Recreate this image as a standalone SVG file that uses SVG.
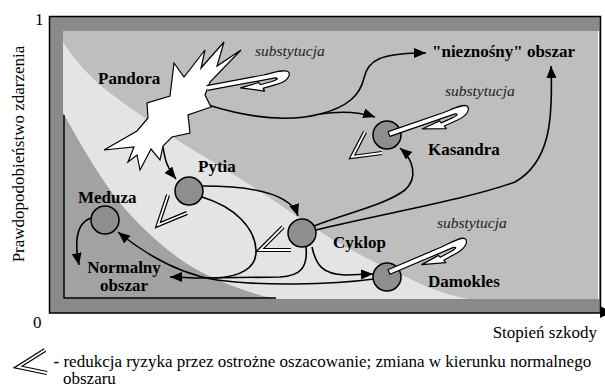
<svg xmlns="http://www.w3.org/2000/svg" xmlns:xlink="http://www.w3.org/1999/xlink" width="605" height="387" viewBox="0 0 605 387">
<style>
.lbl{font-family:Liberation Serif,Times New Roman,serif;font-weight:bold;font-size:17px;fill:#000}
.sub{font-family:Liberation Serif,Times New Roman,serif;font-style:italic;font-size:15.5px;fill:#222}
.ax{font-family:Liberation Serif,Times New Roman,serif;font-size:17px;fill:#000}
.con{fill:none;stroke:#000;stroke-width:1.6}
.arr{marker-end:url(#ah)}
.node{fill:#8e8e8e;stroke:#000;stroke-width:1.5}
.chev-o{fill:none;stroke:#000;stroke-width:4.2;stroke-miterlimit:10}
.chev-i{fill:none;stroke:#fff;stroke-width:1.8;stroke-miterlimit:10}
.subarr{fill:#fff;stroke:#000;stroke-width:1.2;stroke-linejoin:round}
</style>
<defs>
<marker id="ah" markerUnits="userSpaceOnUse" markerWidth="14" markerHeight="12" refX="12" refY="5" orient="auto">
<path d="M0,0 L12,5 L0,10 Z" fill="#000"/>
</marker>
<path id="subC" d="M0,-2.5 L58,-2.5 C70,-3 80,-4.5 83,-1 C85,3 80,8 70,9 L55,10.5 L56,13.5 L33,6 L52,4 L53,6.5 L64,5.5 C70,5 73,3.5 69,2.5 L0,2.5 Z"/>
<path id="subO" d="M0,2.5 L69,2.5 C73,3.5 70,5 64,5.5 L53,6.5 L52,4 L33,6 L56,13.5 L55,10.5 L70,9 C80,8 85,3 83,-1 C80,-4.5 70,-3 58,-2.5 L0,-2.5"/>
</defs>
<rect width="605" height="387" fill="#fff"/>
<g id="background">
<rect x="49.5" y="16.5" width="551" height="296.5" fill="#8a8a8a" stroke="#000" stroke-width="1.5"/>
<rect x="63" y="31" width="535" height="268" fill="#bebebe"/>
<line x1="598.5" y1="31" x2="598.5" y2="299" stroke="#fff" stroke-width="1"/>
<path d="M63,42 C75,60 90,78 110,93 C140,115 175,140 215,163 C255,187 290,212 330,238 C360,256 395,272 430,288 C445,294 458,297 470,299 L277,299 C250,294 215,281 187,264 C160,246 135,222 115,197 C95,170 78,140 63,113 Z" fill="#e4e4e4"/>
<path d="M63,113 C78,140 95,170 115,197 C135,222 160,246 187,264 C215,281 250,294 277,299 L63,299 Z" fill="#a2a2a2"/>
<polyline points="64,115 64,298 276,298" fill="none" stroke="#000" stroke-width="1.5"/>
<polygon points="600,306 612,312 600,318" fill="#000"/>
</g>
<g id="connectors">
<path class="con arr" d="M208,105 C250,118 290,122 320,114 C348,107 360,95 364,78 C368,60 380,53 426,53"/>
<path class="con arr" d="M320,114 C340,111 360,112 375,117"/>
<path class="con arr" d="M163,147 C165,160 167,168 176,179"/>
<path class="con arr" d="M203,186 C245,186 290,192 298,216"/>
<path class="con" d="M202,197 C235,207 255,228 256,250 C257,268 240,277 215,278"/>
<path class="con arr" d="M306,247 C308,268 300,276 280,277 L200,278 C190,278 180,277 170,277"/>
<path class="con arr" d="M312,247 C316,265 322,274 345,275 L373,274"/>
<path class="con arr" d="M374,279 C330,285 260,286 217,280 C185,275 150,258 118,232"/>
<path class="con arr" d="M314,226 C350,212 385,205 405,190 C418,178 414,160 400,148"/>
<path class="con arr" d="M316,230 C380,214 465,200 515,182 C550,162 553,120 551,66"/>
<path class="con arr" d="M91,218 C77,223 74,240 79,265"/>
</g>
<g id="chevrons">
<polyline class="chev-o" points="168,195 158,225 187,213"/>
<polyline class="chev-i" points="168,195 158,225 187,213"/>
<polyline class="chev-o" points="283,227 260,250 291,250"/>
<polyline class="chev-i" points="283,227 260,250 291,250"/>
<polyline class="chev-o" points="365,132 352,157 382,153"/>
<polyline class="chev-i" points="365,132 352,157 382,153"/>
</g>
<g id="pandora">
<polygon points="174,63 184,77 205,50 201,68 224,42 217,66 241,50 210,82 205,95 211,107 188,115 190,133 172,137 163,146 160,160 151,149 140,170 137,155 128,162 134,147 104,150 137,131 148,118 147,103 170,96" fill="#fff" stroke="#000" stroke-width="1.2" stroke-linejoin="miter"/>
<use xlink:href="#subO" class="subarr" transform="translate(207,88) rotate(-10.5)"/>
<text class="lbl" x="98" y="84">Pandora</text>
<text class="sub" x="255" y="56">substytucja</text>
</g>
<g id="pytia">
<circle class="node" cx="189" cy="191" r="14"/>
<text class="lbl" x="198" y="172">Pytia</text>
</g>
<g id="meduza">
<circle class="node" cx="105" cy="220" r="14"/>
<text class="lbl" x="78" y="203">Meduza</text>
</g>
<g id="cyklop">
<circle class="node" cx="302" cy="233" r="14"/>
<text class="lbl" x="333" y="248">Cyklop</text>
</g>
<g id="kasandra">
<circle class="node" cx="387" cy="135" r="14"/>
<use xlink:href="#subC" class="subarr" transform="translate(389,134) rotate(-19)"/>
<text class="lbl" x="428" y="155">Kasandra</text>
<text class="sub" x="445" y="96">substytucja</text>
</g>
<g id="damokles">
<circle class="node" cx="387" cy="277" r="14"/>
<use xlink:href="#subC" class="subarr" transform="translate(389,272) rotate(-23)"/>
<text class="lbl" x="428" y="287">Damokles</text>
<text class="sub" x="437" y="228">substytucja</text>
</g>
<g id="niezn">
<text class="lbl" x="432" y="57" font-size="15.5">"nieznośny" obszar</text>
</g>
<g id="normalny">
<text class="lbl" x="124" y="273" font-size="15.5" text-anchor="middle">Normalny</text>
<text class="lbl" x="124" y="291" font-size="15.5" text-anchor="middle">obszar</text>
</g>
<g id="axes">
<text class="ax" x="35" y="25">1</text>
<text class="ax" x="33" y="328">0</text>
<text class="ax" transform="translate(24,154) rotate(-90)" text-anchor="middle">Prawdopodobieństwo zdarzenia</text>
<text class="ax" x="597" y="338" text-anchor="end">Stopień szkody</text>
</g>
<g id="legend">
<polyline class="chev-o" points="45,350 18,367 47,373"/>
<polyline class="chev-i" points="45,350 18,367 47,373"/>
<text class="ax" x="53.5" y="366.5"><tspan font-weight="bold">-</tspan> redukcja ryzyka przez ostrożne oszacowanie; zmiana w kierunku normalnego</text>
<text class="ax" x="63" y="384">obszaru</text>
</g>
</svg>
